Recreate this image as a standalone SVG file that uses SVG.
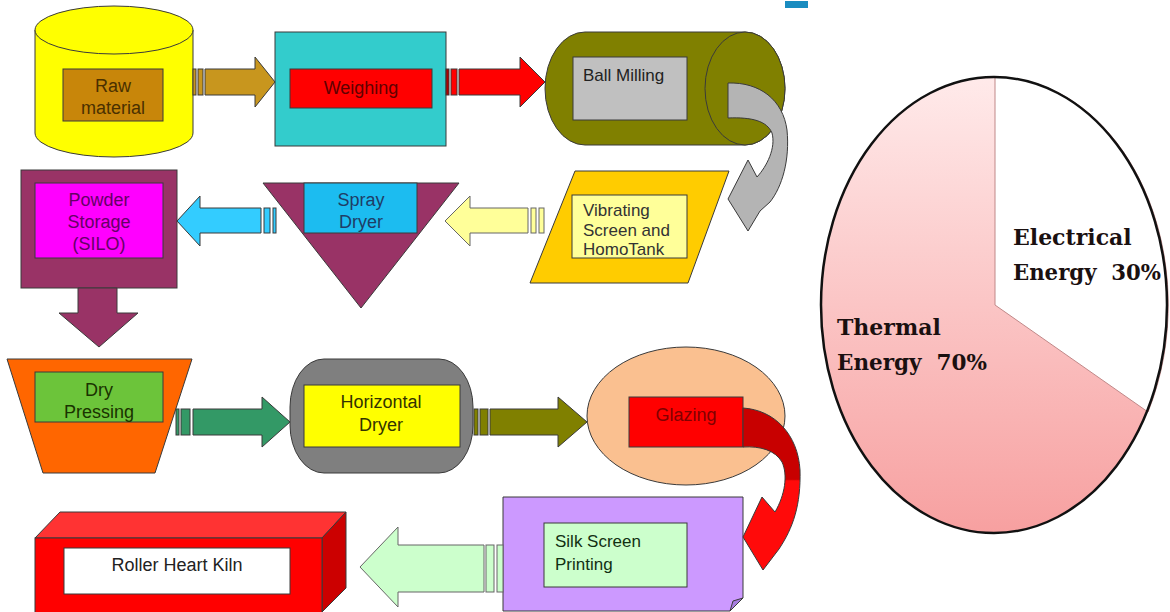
<svg xmlns="http://www.w3.org/2000/svg" width="1170" height="612" viewBox="0 0 1170 612">
<defs>
<style>
.o{stroke:#3a3a3a;stroke-width:1}
.t{font-family:"Liberation Sans",Arial,sans-serif;font-size:18px;text-anchor:middle}
.tl{font-family:"Liberation Sans",Arial,sans-serif;font-size:17px}
.pt{font-family:"DejaVu Serif","Liberation Serif",serif;font-size:22px;font-weight:bold;fill:#1a1010;white-space:pre}
</style>
<linearGradient id="pink" x1="0" y1="0" x2="0" y2="1">
<stop offset="0" stop-color="#ffeaea"/>
<stop offset="1" stop-color="#f7a0a0"/>
</linearGradient>
<linearGradient id="redband" x1="0" y1="0" x2="0" y2="1">
<stop offset="0" stop-color="#c80000"/>
<stop offset="0.44" stop-color="#c80000"/>
<stop offset="0.45" stop-color="#ff0a0a"/>
<stop offset="1" stop-color="#ff0a0a"/>
</linearGradient>
</defs>
<rect width="1170" height="612" fill="#ffffff"/>
<rect x="785" y="1" width="23" height="7" fill="#1a8cc0"/>

<g id="n-raw">
<path d="M35,30 L35,133 A79,24 0 0 0 193,133 L193,30 Z" fill="#ffff00" class="o"/>
<ellipse cx="114" cy="30" rx="79" ry="24" fill="#ffff00" class="o"/>
<rect x="63" y="69" width="100" height="52" fill="#c8860a" class="o"/>
<text class="t" x="113" y="92" fill="#4a3000">Raw</text>
<text class="t" x="113" y="114" fill="#4a3000">material</text>
</g>

<g id="n-weigh">
<rect x="275" y="32" width="171" height="114" fill="#33cccc" class="o"/>
<rect x="290" y="69" width="142" height="39" fill="#ff0000" class="o"/>
<text class="t" x="361" y="94" fill="#600000">Weighing</text>
</g>

<g id="n-ball">
<path d="M585,32 L745,32 A40,56.5 0 0 1 745,145 L585,145 A40,56.5 0 0 1 585,32 Z" fill="#808000" class="o"/>
<ellipse cx="745" cy="88.5" rx="40" ry="56.5" fill="#808000" class="o"/>
<rect x="573" y="57" width="114" height="63" fill="#c0c0c0" class="o"/>
<text class="tl" x="583" y="81" fill="#222" font-size="18">Ball Milling</text>
</g>

<g id="n-vib">
<path d="M575,171 L729,171 L688,283 L530,283 Z" fill="#ffcc00" class="o"/>
<rect x="572" y="195" width="115" height="63" fill="#ffff99" class="o"/>
<text class="tl" x="583" y="216" fill="#333">Vibrating</text>
<text class="tl" x="583" y="236" fill="#333">Screen and</text>
<text class="tl" x="583" y="255" fill="#333">HomoTank</text>
</g>

<g id="n-spray">
<path d="M263,183 L459,183 L361,308 Z" fill="#993366" class="o"/>
<rect x="304" y="183" width="113" height="50" fill="#1cbcf0" class="o"/>
<text class="t" x="361" y="206" fill="#1f3d66">Spray</text>
<text class="t" x="361" y="228" fill="#1f3d66">Dryer</text>
</g>

<g id="n-powder">
<rect x="21" y="170" width="156" height="118" fill="#993366" class="o"/>
<rect x="35" y="183" width="128" height="75" fill="#ff00ff" class="o"/>
<text class="t" x="99" y="206" fill="#660066">Powder</text>
<text class="t" x="99" y="228" fill="#660066">Storage</text>
<text class="t" x="99" y="250" fill="#660066">(SILO)</text>
</g>

<g id="n-drypress">
<path d="M7,359 L192,359 L155,473 L43,473 Z" fill="#ff6600" class="o"/>
<rect x="35" y="372" width="128" height="50" fill="#6cc43a" class="o"/>
<text class="t" x="99" y="396" fill="#1a3300">Dry</text>
<text class="t" x="99" y="418" fill="#1a3300">Pressing</text>
</g>

<g id="n-hordryer">
<rect x="290" y="359" width="183" height="114" rx="34" ry="48" fill="#7f7f7f" class="o"/>
<rect x="304" y="385" width="156" height="62" fill="#ffff00" class="o"/>
<text class="t" x="381" y="408" fill="#333300">Horizontal</text>
<text class="t" x="381" y="431" fill="#333300">Dryer</text>
</g>

<g id="n-glaze">
<ellipse cx="686" cy="416" rx="99" ry="69" fill="#fac090" class="o"/>
<rect x="629" y="397" width="114" height="50" fill="#ff0000" class="o"/>
<text class="t" x="686" y="421" fill="#800000">Glazing</text>
</g>

<g id="n-silk">
<path d="M503,497 L743,497 L743,598 L730,611 L503,611 Z" fill="#cc99ff" class="o"/>
<path d="M730,611 L733,601 L743,598 Z" fill="#a77de0" class="o"/>
<rect x="544" y="523" width="143" height="64" fill="#ccffcc" class="o"/>
<text class="tl" x="555" y="547" fill="#123012" font-size="18">Silk Screen</text>
<text class="tl" x="555" y="570" fill="#123012" font-size="18">Printing</text>
</g>

<g id="n-kiln">
<path d="M35,538 L60,512 L346,512 L322,538 Z" fill="#ff3333" class="o"/>
<path d="M322,538 L346,512 L346,588 L322,612 Z" fill="#cc0000" class="o"/>
<rect x="35" y="538" width="287" height="76" fill="#ff0000" class="o"/>
<rect x="64" y="548" width="226" height="46" fill="#ffffff" class="o"/>
<text class="t" x="177" y="571" fill="#222">Roller Heart Kiln</text>
</g>

<g id="connectors">
<g id="a-raw-weigh" fill="#c8961e" class="o">
<rect x="193" y="69" width="3" height="26"/><rect x="198" y="69" width="5" height="26"/>
<path d="M205,69 L255,69 L255,57 L275,82 L255,107 L255,95 L205,95 Z"/>
</g>
<g id="a-weigh-ball" fill="#ff0000" class="o">
<rect x="446" y="69" width="3" height="26" fill="#b00000"/><rect x="451" y="69" width="6" height="26"/>
<path d="M459,69 L520,69 L520,57 L545,82 L520,107 L520,95 L459,95 Z"/>
</g>
<g id="a-ball-vib">
<path d="M728,83 C760,82 783,100 787,130 C790,160 782,187 770,202 L760,211 L748,231 L728,199 L748,160 L757,177 C767,166 776,148 772,133 C767,121 752,117 728,118 Z" fill="#b4b4b4" class="o"/>
</g>
<g id="a-vib-spray" fill="#ffff99" stroke="#666" stroke-width="1">
<rect x="539" y="208" width="5" height="25"/><rect x="531" y="208" width="5" height="25"/>
<path d="M528,208 L470,208 L470,196 L445,221 L470,246 L470,233 L528,233 Z"/>
</g>
<g id="a-spray-powder" fill="#33ccff" class="o">
<rect x="273" y="208" width="3" height="25"/><rect x="264" y="208" width="6" height="25"/>
<path d="M261,208 L200,208 L200,196 L177,221 L200,246 L200,233 L261,233 Z"/>
</g>
<g id="a-powder-dry">
<path d="M78,288 L117,288 L117,313 L138,313 L99,347 L59,313 L78,313 Z" fill="#993366" class="o"/>
</g>
<g id="a-dry-hor" fill="#339966" class="o">
<rect x="176" y="409" width="3" height="26"/><rect x="181" y="409" width="9" height="26"/>
<path d="M193,409 L262,409 L262,397 L290,422 L262,447 L262,435 L193,435 Z"/>
</g>
<g id="a-hor-glaze" fill="#808000" class="o">
<rect x="474" y="409" width="4" height="26"/><rect x="480" y="409" width="8" height="26"/>
<path d="M490,409 L558,409 L558,397 L587,422 L558,447 L558,435 L490,435 Z"/>
</g>
<g id="a-glaze-silk">
<path d="M743,408 C775,410 798,435 800,470 C801,505 793,528 779,549 L763,570 L743,537 L762,497 L775,512 C785,495 788,475 782,462 C775,450 760,446 743,447 Z" fill="url(#redband)" class="o"/>
</g>
<g id="a-silk-kiln" fill="#ccffcc" stroke="#666" stroke-width="1">
<rect x="497" y="545" width="6" height="47"/><rect x="486" y="545" width="8" height="47"/>
<path d="M484,545 L398,545 L398,527 L360,567 L398,607 L398,592 L484,592 Z"/>
</g>
</g>

<g id="n-pie">
<ellipse cx="994" cy="305" rx="173" ry="228" fill="url(#pink)"/>
<path d="M995,305 L995,77 A173,228 0 0 1 1148,412 Z" fill="#ffffff" stroke="#c08888" stroke-width="1"/>
<ellipse cx="994" cy="305" rx="173" ry="228" fill="none" stroke="#111" stroke-width="2.5"/>
<text class="pt" x="1013" y="245">Electrical</text>
<text class="pt" x="1013" y="280" textLength="148" lengthAdjust="spacingAndGlyphs">Energy  30%</text>
<text class="pt" x="837" y="335">Thermal</text>
<text class="pt" x="837" y="370" textLength="150" lengthAdjust="spacingAndGlyphs">Energy  70%</text>
</g>
</svg>
